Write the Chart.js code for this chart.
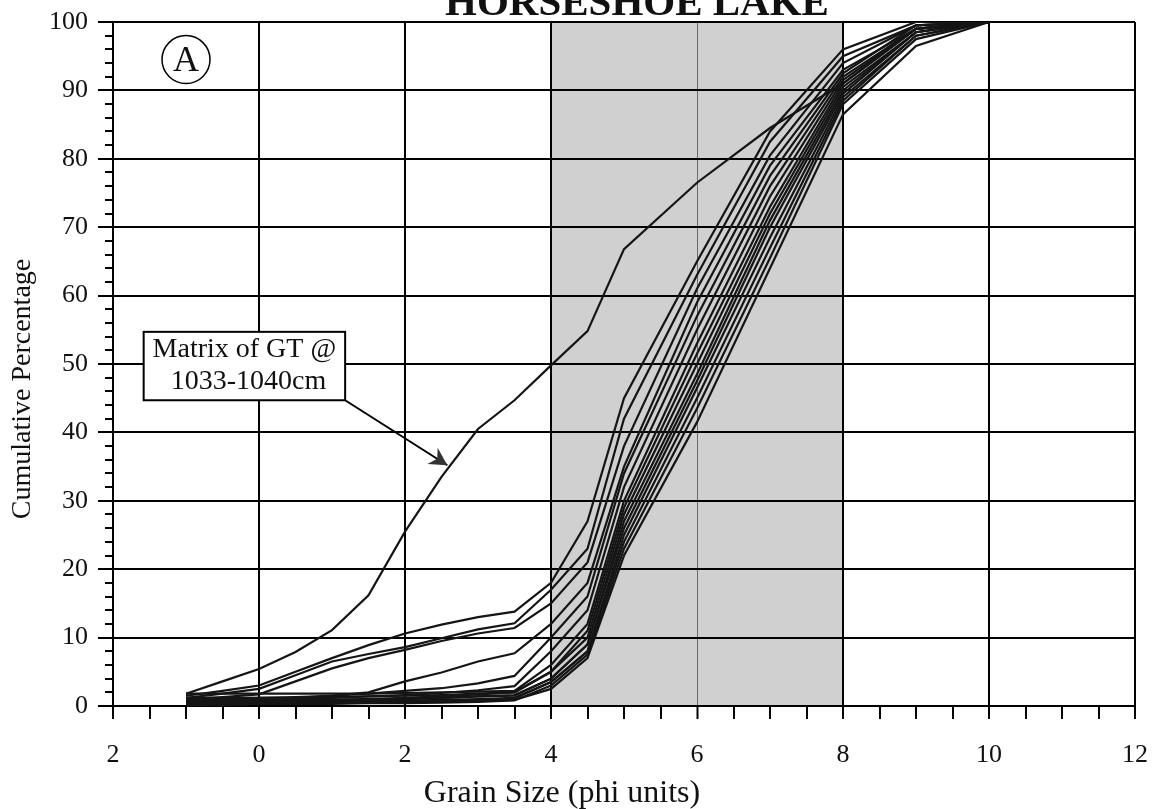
<!DOCTYPE html>
<html>
<head>
<meta charset="utf-8">
<title>Horseshoe Lake grain size</title>
<script src="https://cdn.jsdelivr.net/npm/chart.js@4.4.1/dist/chart.umd.min.js"></script>
<style>
  html, body { margin: 0; padding: 0; background: #fff; }
  #wrap { width: 1154px; height: 809px; }
</style>
</head>
<body>
<div id="wrap"><canvas id="grain"></canvas></div>
<script>
// grain size (phi) of each sample point
const phi = [-1, -0.5, 0, 0.5, 1, 1.5, 2, 2.5, 3, 3.5, 4, 4.5, 5, 6, 7, 8, 9, 10];

// matrix of GT @ 1033-1040cm
const gtMatrix = [1.8, 3.6, 5.4, 7.9, 11.1, 16.2, 25.5, 33.5, 40.5, 44.7, 49.8, 54.8, 66.8, 76.5, 84.5, 91, 99, 100];

// other samples (cumulative %)
const s1  = [1.5, 2.2, 3.0, 5.0, 7.0, 8.9, 10.6, 11.9, 13.0, 13.8, 18, 27, 45, 65, 84, 96, 100, 100];
const s2  = [1.2, 1.8, 2.5, 4.5, 6.5, 7.6, 8.6, 9.9, 11.2, 12.1, 17, 23, 42, 63, 82.5, 95, 99.5, 100];
const s3  = [1.0, 1.3, 1.7, 3.6, 5.5, 7.0, 8.2, 9.5, 10.6, 11.4, 15, 21, 38, 61, 80.5, 94, 99.5, 100];
const s4  = [1.0, 1.0, 1.0, 1.2, 1.5, 2.0, 3.6, 4.9, 6.5, 7.7, 12, 18, 35, 59, 79, 93, 99, 100];
const s5  = [1.0, 1.1, 1.2, 1.3, 1.5, 1.8, 2.2, 2.6, 3.3, 4.4, 10, 16, 34, 57, 77.5, 92.5, 99.5, 100];
const s6  = [0.8, 0.9, 1.0, 1.1, 1.2, 1.4, 1.6, 1.9, 2.3, 2.9, 8, 14, 32, 55, 76, 92, 99, 100];
const s7  = [1.8, 1.8, 1.8, 1.8, 1.8, 1.8, 1.9, 2.0, 2.1, 2.2, 6, 12, 30, 53, 74.5, 91.5, 99, 100];
const s8  = [0.5, 0.6, 0.7, 0.8, 0.9, 1.0, 1.2, 1.4, 1.7, 2.0, 5, 11, 29, 51.5, 73, 91, 99, 100];
const s9  = [1.2, 1.2, 1.2, 1.2, 1.3, 1.4, 1.5, 1.6, 1.8, 2.0, 5, 10, 28, 50, 72, 90.5, 98.5, 100];
const s10 = [0.3, 0.4, 0.5, 0.6, 0.7, 0.8, 1.0, 1.2, 1.4, 1.6, 4, 9, 27, 48.5, 71, 90, 98.5, 100];
const s11 = [0.8, 0.8, 0.8, 0.9, 0.9, 1.0, 1.1, 1.2, 1.4, 1.5, 4, 9, 26, 47.5, 70, 89.5, 98.5, 100];
const s12 = [0.1, 0.2, 0.3, 0.3, 0.4, 0.5, 0.6, 0.7, 0.9, 1.1, 3.5, 8, 25, 46.5, 68.5, 89, 98, 100];
const s13 = [0.6, 0.6, 0.6, 0.6, 0.7, 0.7, 0.8, 0.9, 1.0, 1.2, 3.5, 8, 24, 45, 67, 88.5, 98, 100];
const s14 = [0.2, 0.2, 0.3, 0.3, 0.3, 0.4, 0.4, 0.5, 0.6, 0.8, 3, 7.5, 23, 43.5, 65.5, 88, 97.5, 100];
const s15 = [0.4, 0.4, 0.4, 0.4, 0.5, 0.5, 0.6, 0.6, 0.7, 0.9, 2.5, 7, 22, 41.5, 64, 86.5, 96.5, 100];

const samples = [gtMatrix, s1, s2, s3, s4, s5, s6, s7, s8, s9, s10, s11, s12, s13, s14, s15];

// tick labels as printed on the figure
const xTickLabels = ['2', '0', '2', '4', '6', '8', '10', '12'];
const yTickLabels = ['0', '10', '20', '30', '40', '50', '60', '70', '80', '90', '100'];

const shadeRange = [4, 8];
const noteLines = ['Matrix of GT @', '1033-1040cm'];

const serif = '"Liberation Serif", "Times New Roman", serif';

const datasets = samples.map((vals, i) => ({
  label: i === 0 ? 'Matrix of GT' : 'Sample ' + i,
  data: vals.map((v, j) => ({ x: phi[j], y: v })),
  borderColor: '#151515',
  borderWidth: 2.2,
  pointRadius: 0,
  tension: 0,
  fill: false
}));

// grey band between phi 4 and 8, painted under the grid
const shadePlugin = {
  id: 'shade',
  beforeDraw(chart) {
    const { ctx, chartArea, scales } = chart;
    const x0 = scales.x.getPixelForValue(shadeRange[0]);
    const x1 = scales.x.getPixelForValue(shadeRange[1]);
    ctx.save();
    ctx.fillStyle = '#d0d0d0';
    ctx.fillRect(x0, chartArea.top, x1 - x0, chartArea.bottom - chartArea.top);
    ctx.restore();
  }
};

const notesPlugin = {
  id: 'notes',
  afterDraw(chart) {
    const { ctx, scales } = chart;
    const xs = scales.x, ys = scales.y;
    ctx.save();

    // minor ticks on y axis
    ctx.strokeStyle = '#000';
    ctx.lineWidth = 2;
    for (let v = 2; v < 100; v += 2) {
      if (v % 10 === 0) continue;
      const py = Math.round(ys.getPixelForValue(v));
      ctx.beginPath();
      ctx.moveTo(xs.left - 8, py);
      ctx.lineTo(xs.left, py);
      ctx.stroke();
    }

    // title, cut by the page edge
    ctx.fillStyle = '#111';
    ctx.font = 'bold 41px ' + serif;
    ctx.textAlign = 'center';
    ctx.textBaseline = 'alphabetic';
    ctx.fillText('HORSESHOE LAKE', 637, 15);

    // axis titles
    ctx.font = '32px ' + serif;
    ctx.textBaseline = 'middle';
    ctx.fillText('Grain Size (phi units)', 562, 794);
    ctx.save();
    ctx.translate(23, 389);
    ctx.rotate(-Math.PI / 2);
    ctx.font = '28px ' + serif;
    ctx.fillText('Cumulative Percentage', 0, 0);
    ctx.restore();

    // circled A
    const cx = xs.getPixelForValue(-1), cy = ys.getPixelForValue(94.5);
    ctx.lineWidth = 1.5;
    ctx.beginPath();
    ctx.arc(cx, cy, 24, 0, Math.PI * 2);
    ctx.stroke();
    ctx.font = '36px ' + serif;
    ctx.fillText('A', cx, cy + 2);

    // annotation box
    const bx0 = xs.getPixelForValue(-1.58), bx1 = xs.getPixelForValue(1.18);
    const by0 = ys.getPixelForValue(54.7), by1 = ys.getPixelForValue(44.7);
    ctx.fillStyle = '#fff';
    ctx.fillRect(bx0, by0, bx1 - bx0, by1 - by0);
    ctx.lineWidth = 2;
    ctx.strokeRect(bx0, by0, bx1 - bx0, by1 - by0);
    ctx.fillStyle = '#111';
    ctx.font = '28px ' + serif;
    ctx.fillText(noteLines[0], (bx0 + bx1) / 2, by0 + 18);
    ctx.fillText(noteLines[1], (bx0 + bx1) / 2 + 4, by0 + 50);

    // arrow to the GT curve
    const ax = xs.getPixelForValue(2.58), ay = ys.getPixelForValue(35.2);
    ctx.beginPath();
    ctx.moveTo(bx1, by1);
    ctx.lineTo(ax, ay);
    ctx.stroke();
    const ang = Math.atan2(ay - by1, ax - bx1);
    ctx.fillStyle = '#333';
    ctx.beginPath();
    ctx.moveTo(ax, ay);
    ctx.lineTo(ax - 20 * Math.cos(ang - 0.5), ay - 20 * Math.sin(ang - 0.5));
    ctx.lineTo(ax - 12 * Math.cos(ang), ay - 12 * Math.sin(ang));
    ctx.lineTo(ax - 20 * Math.cos(ang + 0.5), ay - 20 * Math.sin(ang + 0.5));
    ctx.closePath();
    ctx.fill();

    ctx.restore();
  }
};

new Chart(document.getElementById('grain'), {
  type: 'line',
  data: { datasets: datasets },
  options: {
    responsive: true,
    maintainAspectRatio: false,
    animation: false,
    layout: { padding: { top: 22, right: 19, left: 0, bottom: 0 } },
    plugins: {
      legend: { display: false },
      tooltip: { enabled: false }
    },
    scales: {
      x: {
        type: 'linear',
        min: -2,
        max: 12,
        afterFit(scale) {
          scale.height = 103;
          scale.paddingLeft = 0;
          scale.paddingRight = 0;
        },
        border: { color: '#000', width: 2 },
        grid: {
          color: c => {
            const v = c.tick.value;
            if (v === 6) return '#6a6a6a';
            return Math.abs(v % 2) < 1e-9 ? '#000' : 'rgba(0,0,0,0)';
          },
          lineWidth: c => (c.tick.value === 6 ? 1 : 2),
          tickColor: '#000',
          tickWidth: 2,
          tickLength: 13
        },
        ticks: {
          stepSize: 0.5,
          autoSkip: false,
          maxRotation: 0,
          padding: 21,
          color: '#111',
          font: { family: serif, size: 26 },
          callback: v => (Math.abs(v % 2) < 1e-9 ? xTickLabels[(v + 2) / 2] : '')
        }
      },
      y: {
        min: 0,
        max: 100,
        afterFit(scale) {
          scale.width = 113;
          scale.paddingTop = 0;
          scale.paddingBottom = 0;
        },
        border: { color: '#000', width: 2 },
        grid: {
          color: c => (c.tick.value % 10 === 0 ? '#000' : 'rgba(0,0,0,0)'),
          lineWidth: 2,
          tickColor: c => (c.tick.value % 10 === 0 ? '#000' : 'rgba(0,0,0,0)'),
          tickWidth: 2,
          tickLength: 15
        },
        ticks: {
          stepSize: 2,
          autoSkip: false,
          padding: 10,
          color: '#111',
          font: { family: serif, size: 26 },
          callback: v => (v % 10 === 0 ? yTickLabels[v / 10] : '')
        }
      }
    }
  },
  plugins: [shadePlugin, notesPlugin]
});
</script>
</body>
</html>
